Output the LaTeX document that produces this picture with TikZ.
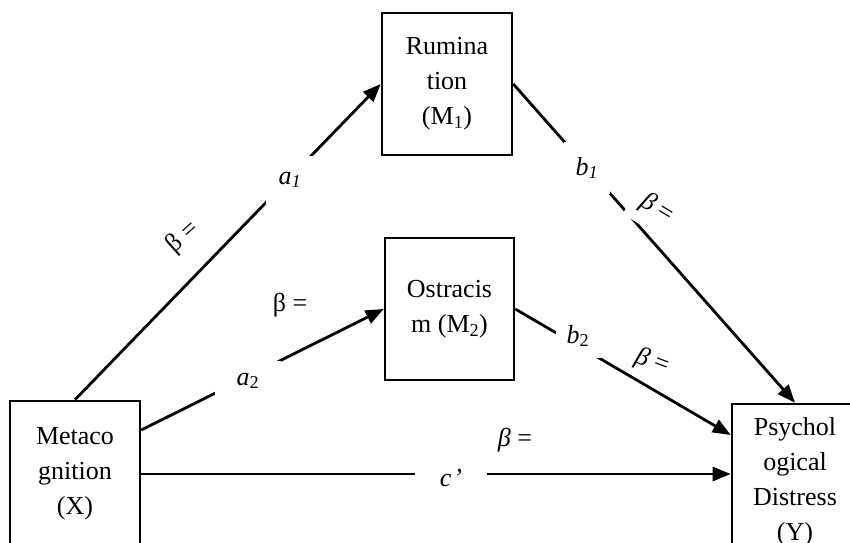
\documentclass[tikz,border=0pt]{standalone}
\usepackage{fontspec}
\setmainfont{Liberation Serif}
\usetikzlibrary{arrows.meta}
\tikzset{
  varbox/.style={draw, line width=2.6pt, align=center,
    font=\fontsize{26pt}{35pt}\selectfont},
  link/.style={line width=2.8pt, -{Triangle[length=18pt,width=14pt]}},
  coef/.style={fill=white, inner sep=0pt, font=\fontsize{26pt}{30pt}\selectfont},
  betalbl/.style={inner sep=1pt, font=\fontsize{26pt}{30pt}\selectfont}
}

\begin{document}
\begin{tikzpicture}[x=1pt, y=-1pt]
  \clip (0,0) rectangle (850,542);
  % the four variables
  \node[varbox, minimum width=130pt, minimum height=142pt] (M1) at (447,84)
       {Rumina\\tion\\(M\textsubscript{1})};
  \node[varbox, minimum width=129pt, minimum height=142pt] (M2) at (449.5,309)
       {Ostracis\\m (M\textsubscript{2})};
  \node[varbox, minimum width=130pt, minimum height=146pt] (X) at (75,474)
       {Metaco\\gnition\\(X)};
  \node[varbox, minimum width=126pt, minimum height=156pt] (Y) at (795,482)
       {Psychol\\ogical\\Distress\\(Y)};
  % paths
  \draw[link] (X.north) -- (M1.west);
  \draw[link] ([yshift=44pt]X.east) -- (M2.west);
  \draw[link] (M1.east) -- (Y.north);
  \draw[link] (M2.east) -- ([yshift=47pt]Y.west);
  \draw[link] (X.east) -- (X.east -| Y.west);
  % path labels
  \node[coef, minimum width=48pt, minimum height=48pt] (a1) at (290,180)
       {\textit{a}\textsubscript{\textit{1}}};
  \node[coef, minimum width=66pt, minimum height=40pt] (a2) at (248,381)
       {\textit{a}\textsubscript{2}};
  \node[coef, minimum width=46pt, minimum height=52pt] (b1) at (587,168)
       {\textit{b}\textsubscript{\textit{1}}};
  \node[coef, minimum width=45pt, minimum height=44pt] (b2) at (578,336)
       {\textit{b}\textsubscript{2}};
  \node[coef, minimum width=72pt, minimum height=30pt] (c) at (451,478)
       {\textit{c}\kern2pt\textit{’}};
  \node[betalbl, rotate=42] (beta1) at (183,237) {β =};
  \node[betalbl] (beta2) at (290,305) {β =};
  \node[betalbl, fill=white, inner sep=10pt, rotate=-31] (beta3) at (657,209) {\textit{β} =};
  \node[betalbl, rotate=-20] (beta4) at (652,362) {\textit{β} =};
  \node[betalbl] (beta5) at (515,440) {\textit{β} =};
\end{tikzpicture}
\end{document}
